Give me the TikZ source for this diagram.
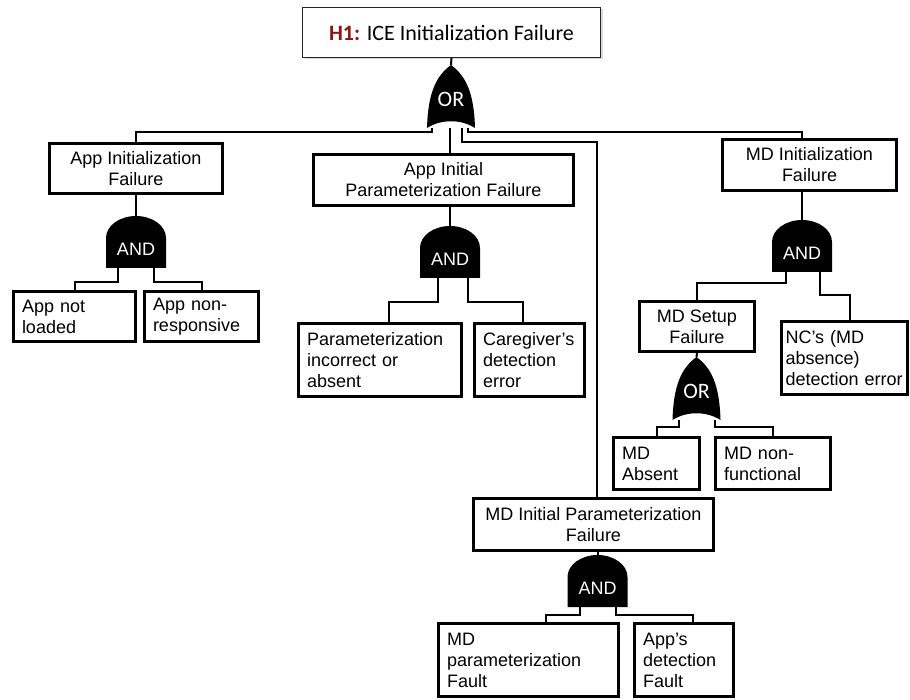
\documentclass[tikz,border=0pt]{standalone}
\usepackage{fontspec}
\setmainfont{Liberation Sans}
\newfontfamily\calfont{Carlito}
\usepackage{tikz}
\usetikzlibrary{shadows}
\definecolor{hred}{RGB}{140,22,22}
\tikzset{
  topbox/.style={draw=black!85,line width=.8pt,fill=white,inner sep=0pt,
    drop shadow={shadow xshift=2pt,shadow yshift=-2pt,opacity=.3},
    font=\calfont\fontsize{22}{25}\selectfont},
  evbox/.style={draw,line width=3pt,align=center,fill=white,inner sep=0pt,
    font=\fontsize{18}{21}\selectfont},
  leafbox/.style={draw,line width=3pt,align=left,fill=white,inner xsep=8.5pt,inner ysep=0pt,
    font=\fontsize{18}{21}\selectfont},
  wire/.style={line width=2pt},
  gatefill/.style={fill=black},
  gatelbl/.style={text=white,inner sep=0pt},
  % gate symbols, origin at the middle of the base
  andgate/.pic={
    \fill[gatefill] (-30,0) -- (-30,-30) arc[start angle=180,end angle=0,x radius=30pt,y radius=22pt] -- (30,0) -- cycle;
    \node[gatelbl,font=\fontsize{18}{21}\selectfont] (-lbl) at (0,-19) {AND};
    \coordinate (-in) at (0,-52);
    \coordinate (-b) at (0,0);
  },
  orgate/.pic={
    \fill[gatefill] (-24,0) .. controls (-23,-35) and (-15,-52) .. (0,-63)
      .. controls (15,-52) and (23,-35) .. (24,0) .. controls (10,-9) and (-10,-9) .. cycle;
    \node[gatelbl,font=\calfont\fontsize{22}{25}\selectfont] (-lbl) at (0,-29) {OR};
    \coordinate (-in) at (0,-63);
    \coordinate (-b) at (0,0);
  }
}
\begin{document}
\begin{tikzpicture}[x=1pt,y=-1pt]
  \useasboundingbox (0,0) rectangle (910,700);

  % events
  \node[topbox,minimum width=298pt,minimum height=50pt] (top) at (451.5,32.5)
    {\textcolor{hred}{\bfseries H1:} ICE Initialization Failure};
  \node[evbox,minimum width=173pt,minimum height=50pt] (appinit) at (136,168.5) {App Initialization\\Failure};
  \node[evbox,minimum width=260pt,minimum height=51pt] (appparam) at (443.5,180) {App Initial\\Parameterization Failure};
  \node[evbox,minimum width=174pt,minimum height=51pt] (mdinit) at (809.5,165) {MD Initialization\\Failure};
  \node[evbox,minimum width=115pt,minimum height=50pt] (mdsetup) at (697,326.5) {MD Setup\\Failure};
  \node[evbox,minimum width=240pt,minimum height=52pt] (mdparam) at (593.5,524.5) {MD Initial Parameterization\\Failure};

  % basic events
  \node[leafbox,text width=105pt,minimum height=50pt] (appnl) at (74.5,316.5) {App not\\loaded};
  \node[leafbox,text width=97pt,minimum height=50pt] (appnr) at (201.5,316.5) {App non-\\responsive};
  \node[leafbox,text width=146pt,minimum height=73pt] (param) at (380,360) {Parameterization\\incorrect or\\absent};
  \node[leafbox,text width=93pt,minimum height=73pt] (caregiver) at (529.5,360) {Caregiver’s\\detection\\error};
  \node[leafbox,inner xsep=4pt,text width=118pt,minimum height=73pt] (ncs) at (844.5,358) {NC’s (MD\\absence)\\detection error};
  \node[leafbox,text width=69pt,minimum height=52pt] (mdabsent) at (656.5,463.5) {MD\\Absent};
  \node[leafbox,text width=98pt,minimum height=52pt] (mdnonf) at (773,463.5) {MD non-\\functional};
  \node[leafbox,text width=163pt,minimum height=73pt] (mdpf) at (528.5,660) {MD\\parameterization\\Fault};
  \node[leafbox,text width=82pt,minimum height=73pt] (appdet) at (684,660) {App’s\\detection\\Fault};

  % gates
  \pic (g1) at (451,128) {orgate};
  \pic (ga1) at (136,268) {andgate};
  \pic (ga2) at (450,278) {andgate};
  \pic (ga3) at (802,272) {andgate};
  \pic (go2) at (696.5,420) {orgate};
  \pic (ga4) at (597.5,607) {andgate};

  % top gate
  \draw[wire] (top.south) -- (g1-in);
  \draw[wire] ([xshift=-19pt]g1-b) -- ++(0,4) -| (appinit.north);
  \draw[wire] ([xshift=-1pt]g1-b) -- ([xshift=6.5pt]appparam.north);
  \draw[wire] ([xshift=17pt]g1-b) -- ++(0,4) -| ([xshift=-7.5pt]mdinit.north);
  \draw[wire] ([xshift=11pt]g1-b) -- ++(0,14) -| ([xshift=3.5pt]mdparam.north);

  % app initialization
  \draw[wire] (appinit.south) -- (ga1-in);
  \draw[wire] ([xshift=-18pt]ga1-b) -- ++(0,14) -| (appnl.north);
  \draw[wire] ([xshift=18pt]ga1-b) -- ++(0,14) -| (appnr.north);

  % app parameterization
  \draw[wire] ([xshift=6.5pt]appparam.south) -- (ga2-in);
  \draw[wire] ([xshift=-12pt]ga2-b) -- ++(0,24) -| ([xshift=9pt]param.north);
  \draw[wire] ([xshift=18pt]ga2-b) -- ++(0,24) -| ([xshift=-6.5pt]caregiver.north);

  % md initialization
  \draw[wire] ([xshift=-7.5pt]mdinit.south) -- (ga3-in);
  \draw[wire] ([xshift=-16pt]ga3-b) -- ++(0,11) -| (mdsetup.north);
  \draw[wire] ([xshift=18pt]ga3-b) -- ++(0,23) -| ([xshift=5.5pt]ncs.north);
  \draw[wire] (mdsetup.south) -- (go2-in);
  \draw[wire] ([xshift=-17.5pt]go2-b) -- ++(0,7) -| (mdabsent.north);
  \draw[wire] ([xshift=18.5pt]go2-b) -- ++(0,7) -| (mdnonf.north);

  % md parameterization
  \draw[wire] ([xshift=4pt]mdparam.south) -- (ga4-in);
  \draw[wire] ([xshift=-17.5pt]ga4-b) -- ++(0,8) -| ([xshift=17.5pt]mdpf.north);
  \draw[wire] ([xshift=18.5pt]ga4-b) -- ++(0,8) -| ([xshift=9pt]appdet.north);
\end{tikzpicture}
\end{document}
